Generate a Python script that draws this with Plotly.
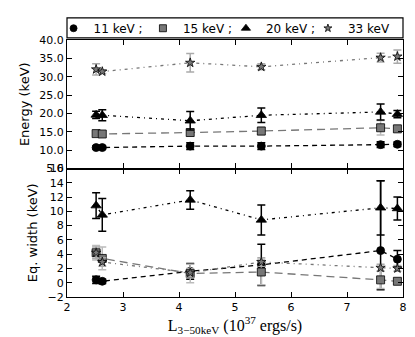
import plotly.graph_objects as go
from plotly.subplots import make_subplots

# Luminosity (10^37 ergs/s)
lum = [2.52, 2.63, 4.2, 5.47, 7.6, 7.9]

# Line energies (keV)
e11 = [10.7, 10.7, 11.1, 11.1, 11.5, 11.6]
e11_err = [0.4, 0.4, 0.9, 0.9, 0.8, 0.6]
e15 = [14.5, 14.4, 14.8, 15.2, 16.1, 15.8]
e15_err = [0.8, 0.8, 1.0, 1.1, 2.0, 0.9]
e20 = [19.6, 19.5, 18.0, 19.5, 20.4, 19.8]
e20_err = [1.0, 1.5, 2.5, 2.0, 2.2, 1.0]
e33 = [32.0, 31.4, 33.8, 32.7, 35.2, 35.5]
e33_err = [1.5, 0.5, 2.5, 0.8, 1.2, 1.8]

# Equivalent widths (keV)
w11 = [0.4, 0.2, 1.6, 2.5, 4.5, 3.3]
w11_up = [0.5, 0.3, 1.1, 2.9, 9.8, 1.2]
w11_dn = [0.5, 0.3, 1.1, 2.9, 5.5, 1.1]
w15 = [4.2, 3.4, 1.3, 1.5, 0.4, 0.2]
w15_err = [1.0, 1.6, 1.3, 1.8, 1.2, 0.4]
w20 = [10.8, 9.5, 11.6, 8.8, 10.5, 10.4]
w20_err = [1.8, 2.3, 1.3, 2.1, 3.8, 1.6]
w33 = [4.2, 2.9, 1.4, 2.9, 2.1, 2.0]
w33_err = [0.8, 0.6, 0.6, 0.6, 0.5, 0.4]

names = ["11 keV ;", "15 keV ;", "20 keV ;", "33 keV"]

styles = [
    dict(color="black", symbol="circle", size=8, dash="5px,4px", ecol="black"),
    dict(color="#777777", symbol="square", size=8, dash="8px,5px", ecol="#bbbbbb"),
    dict(color="black", symbol="triangle-up", size=9, dash="1px,4px,3px,4px", ecol="black"),
    dict(color="#777777", symbol="star", size=7, dash="1px,4px,3px,4px", ecol="#aaaaaa"),
]

fig = make_subplots(rows=2, cols=1, shared_xaxes=True, vertical_spacing=0)

top = [(e11, e11_err, e11_err), (e15, e15_err, e15_err),
       (e20, e20_err, e20_err), (e33, e33_err, e33_err)]
bot = [(w11, w11_up, w11_dn), (w15, w15_err, w15_err),
       (w20, w20_err, w20_err), (w33, w33_err, w33_err)]

for row, sets in [(1, top), (2, bot)]:
    for (vals, up, dn), st in zip(sets, styles):
        fig.add_trace(go.Scatter(
            x=lum, y=vals, mode="lines+markers", showlegend=False,
            line=dict(color=st["color"], width=1.3, dash=st["dash"]),
            marker=dict(color=st["color"], symbol=st["symbol"], size=st["size"],
                        line=dict(color="black", width=0.8)),
            error_y=dict(type="data", array=up, arrayminus=dn, symmetric=False,
                         color=st["ecol"], thickness=1.5, width=4),
        ), row=row, col=1)

# one legend per entry so they can be spread across the frame
legend_ids = ["legend", "legend2", "legend3", "legend4"]
legend_x = [-0.04, 0.226, 0.473, 0.717]
for name, st, lid in zip(names, styles, legend_ids):
    fig.add_trace(go.Scatter(
        x=[None], y=[None], mode="markers", name=name, legend=lid,
        marker=dict(color=st["color"], symbol=st["symbol"], size=st["size"] - 1,
                    line=dict(color="black", width=0.8)),
    ), row=1, col=1)

axis_style = dict(showline=True, linecolor="black", linewidth=1.2, mirror="ticks",
                  ticks="inside", ticklen=5, tickcolor="black", showgrid=False,
                  zeroline=False, tickfont=dict(family="DejaVu Sans", size=11, color="black"))

fig.update_xaxes(**axis_style, range=[2, 8], dtick=1)
fig.update_xaxes(showticklabels=False, row=1, col=1)
fig.update_xaxes(
    title=dict(text="L<sub>3−50keV</sub> (10<sup>37</sup> ergs/s)",
               font=dict(family="Liberation Serif", size=16, color="black"), standoff=0),
    row=2, col=1)

fig.update_yaxes(**axis_style)
fig.update_yaxes(range=[5, 40], dtick=5, tickformat=".1f",
                 title=dict(text="Energy (keV)", font=dict(family="DejaVu Sans", size=13, color="black"),
                            standoff=6),
                 row=1, col=1)
fig.update_yaxes(range=[-2, 16], dtick=2,
                 title=dict(text="Eq. width (keV)", font=dict(family="DejaVu Sans", size=13, color="black"),
                            standoff=6),
                 row=2, col=1)

# legend frame spanning the full axes width
fig.add_shape(type="rect", xref="paper", yref="paper", x0=0, x1=1, y0=1.008, y1=1.086,
              line=dict(color="black", width=1.2), fillcolor="rgba(0,0,0,0)")

legend_common = dict(orientation="h", xanchor="left", yref="container", y=0.94,
                     yanchor="middle", borderwidth=0, bgcolor="rgba(0,0,0,0)",
                     font=dict(family="DejaVu Sans", size=12, color="black"))

fig.update_layout(
    width=415, height=337,
    margin=dict(l=59, r=20, t=32, b=48, autoexpand=False),
    paper_bgcolor="white", plot_bgcolor="white",
    **{lid: dict(x=lx, **legend_common) for lid, lx in zip(legend_ids, legend_x)},
)

fig.write_html("out.html")
